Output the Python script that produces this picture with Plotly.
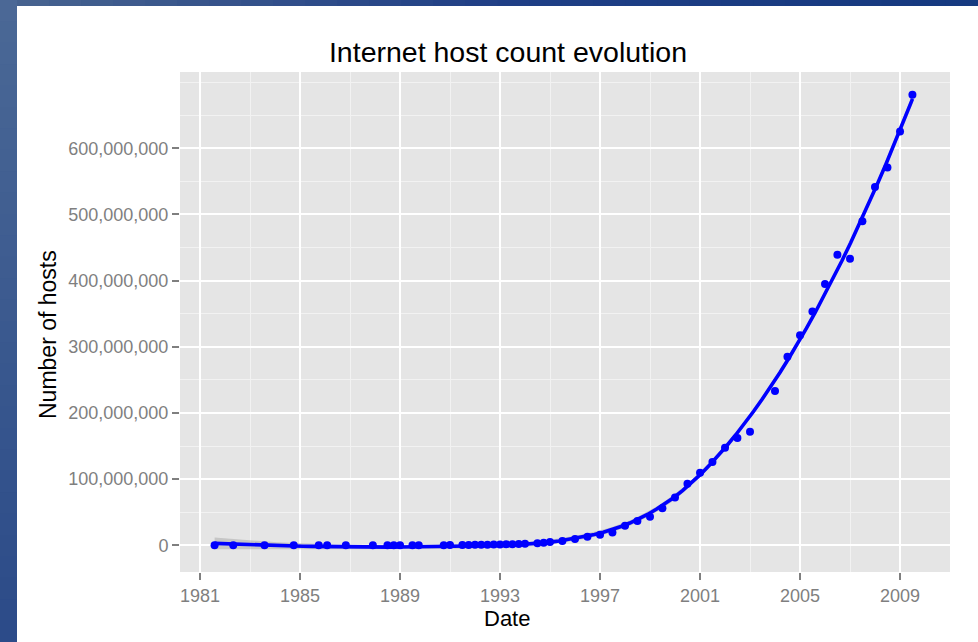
import numpy as np
import pandas as pd
import plotly.graph_objects as go

# ---- data (ISC host count survey, unadjusted) ----
survey_dates = [
    "1981-08", "1982-05", "1983-08", "1984-10", "1985-10", "1986-02", "1986-11",
    "1987-12", "1988-07", "1988-10", "1989-01", "1989-07", "1989-10", "1990-10",
    "1991-01", "1991-07", "1991-10", "1992-01", "1992-04", "1992-07", "1992-10",
    "1993-01", "1993-04", "1993-07", "1993-10", "1994-01", "1994-07", "1994-10",
    "1995-01", "1995-07", "1996-01", "1996-07", "1997-01", "1997-07", "1998-01",
    "1998-07", "1999-01", "1999-07", "2000-01", "2000-07", "2001-01", "2001-07",
    "2002-01", "2002-07", "2003-01", "2004-01", "2004-07", "2005-01", "2005-07",
    "2006-01", "2006-07", "2007-01", "2007-07", "2008-01", "2008-07", "2009-01",
    "2009-07",
]
host_counts = [
    213, 235, 562, 1024, 1961, 2308, 5089,
    28174, 33000, 56000, 80000, 130000, 159000, 313000,
    376000, 535000, 617000, 727000, 890000, 992000, 1136000,
    1313000, 1486000, 1776000, 2056000, 2217000, 3212000, 3864000,
    4852000, 6642000, 9472000, 12881000, 16146000, 19540000, 29670000,
    36739000, 43230000, 56218000, 72398092, 93047785, 109574429, 125888197,
    147344723, 162128493, 171638297, 233101481, 285139107, 317646084, 353284187,
    394991609, 439286364, 433193199, 489774269, 541677360, 570937778, 625226456,
    681064561,
]
year_ticks = [1981, 1985, 1989, 1993, 1997, 2001, 2005, 2009]
count_ticks = [0, 100e6, 200e6, 300e6, 400e6, 500e6, 600e6]

# ---- loess smoother (degree 2, span 0.75, tricube), like geom_smooth ----
dates = pd.to_datetime(survey_dates)
xnum = np.array([d.year + (d.month - 1) / 12 for d in dates], dtype=float)
yv = np.array(host_counts, dtype=float)


def loess_row(x, x0, span=0.75):
    n = len(x)
    q = int(np.floor(n * span))
    d = np.abs(x - x0)
    h = np.sort(d)[q - 1]
    u = np.clip(d / h, 0, 1)
    w = (1 - u ** 3) ** 3
    X = np.vstack([np.ones(n), x - x0, (x - x0) ** 2]).T
    XtW = X.T * w
    A = np.linalg.solve(XtW @ X, XtW)
    return A[0]


L = np.array([loess_row(xnum, x0) for x0 in xnum])
resid = yv - L @ yv
n = len(xnum)
I = np.eye(n)
M = (I - L).T @ (I - L)
d1 = np.trace(M)
sigma = np.sqrt(np.sum(resid ** 2) / d1)
tq = 2.0

xs = np.linspace(xnum.min(), xnum.max(), 80)
rows = np.array([loess_row(xnum, x0) for x0 in xs])
fit = rows @ yv
se = sigma * np.sqrt(np.sum(rows ** 2, axis=1))
lo = fit - tq * se
hi = fit + tq * se


def to_date(v):
    yr = int(np.floor(v))
    start = pd.Timestamp(year=yr, month=1, day=1)
    end = pd.Timestamp(year=yr + 1, month=1, day=1)
    return start + (end - start) * (v - yr)


xs_dates = [to_date(v) for v in xs]

fig = go.Figure()
fig.add_trace(go.Scatter(
    x=xs_dates + xs_dates[::-1], y=list(hi) + list(lo[::-1]),
    fill="toself", fillcolor="rgba(153,153,153,0.4)", line=dict(width=0),
    mode="lines", hoverinfo="skip", showlegend=False))
fig.add_trace(go.Scatter(
    x=dates, y=yv, mode="markers",
    marker=dict(color="#0000FF", size=8, line=dict(width=0)),
    showlegend=False))
fig.add_trace(go.Scatter(
    x=xs_dates, y=fit, mode="lines",
    line=dict(color="#0000FF", width=3.6), showlegend=False))

# ---- layout ----
L_M, R_M, T_M, B_M = 180, 28, 72, 70
W, H = 978, 642
PW, PH = W - L_M - R_M, H - T_M - B_M


def px(xp):
    return (xp - L_M) / PW


def py(yp):
    return (H - B_M - yp) / PH


shapes = []
# decorative blue frame (gradient approximated by slices)
nsl = 30
c_top = np.array([0x4b, 0x68, 0x96])
c_bot = np.array([0x2c, 0x4b, 0x89])
for i in range(nsl):
    t = i / (nsl - 1)
    c = (c_top * (1 - t) + c_bot * t).astype(int)
    y0 = i * H / nsl
    y1 = (i + 1) * H / nsl + 1
    shapes.append(dict(type="rect", xref="paper", yref="paper",
                       x0=px(0), x1=px(17), y0=py(y1), y1=py(y0),
                       fillcolor="rgb(%d,%d,%d)" % tuple(c), line=dict(width=0),
                       layer="above"))
c_l = np.array([0x46, 0x62, 0x8f])
c_m = np.array([0x20, 0x3f, 0x86])
c_r = np.array([0x16, 0x3a, 0x80])
for i in range(nsl):
    t = i / (nsl - 1)
    if t < 0.5:
        c = c_l * (1 - 2 * t) + c_m * 2 * t
    else:
        c = c_m * (2 - 2 * t) + c_r * (2 * t - 1)
    c = c.astype(int)
    x0 = 17 + i * (W - 17) / nsl
    x1 = 17 + (i + 1) * (W - 17) / nsl + 1
    shapes.append(dict(type="rect", xref="paper", yref="paper",
                       x0=px(x0), x1=px(x1), y0=py(6), y1=py(0),
                       fillcolor="rgb(%d,%d,%d)" % tuple(c), line=dict(width=0),
                       layer="above"))

FONT = "Liberation Sans, Arial, Helvetica, sans-serif"

fig.update_layout(
    width=W, height=H,
    margin=dict(l=L_M, r=R_M, t=T_M, b=B_M),
    paper_bgcolor="white", plot_bgcolor="#E5E5E5",
    font=dict(family=FONT, color="#000000"),
    title=dict(text="Internet host count evolution", x=508 / W, xref="container",
               xanchor="center", y=1 - 52 / H, yref="container", yanchor="middle",
               font=dict(size=28.5, color="#000000", family=FONT)),
    shapes=shapes,
    annotations=[
        dict(text="Date", x=px(507), y=py(604), xref="paper", yref="paper",
             showarrow=False, xanchor="center", yanchor="top",
             font=dict(size=22, color="#000000", family=FONT)),
        dict(text="Number of hosts", x=px(48), y=py(335), xref="paper", yref="paper",
             showarrow=False, xanchor="center", yanchor="middle", textangle=-90,
             font=dict(size=23, color="#000000", family=FONT)),
    ],
    showlegend=False,
)

fig.update_xaxes(
    type="date",
    range=["1980-03-14", "2011-01-01"],
    tickvals=[pd.Timestamp(year=y, month=1, day=1) for y in year_ticks],
    ticktext=[str(y) for y in year_ticks],
    showgrid=True, gridcolor="white", gridwidth=2,
    minor=dict(tickvals=[pd.Timestamp(year=y + 2, month=1, day=1) for y in [1979] + year_ticks],
               showgrid=True, gridcolor="#F2F2F2", gridwidth=1, ticks=""),
    ticks="outside", ticklen=7, tickwidth=1.5, tickcolor="#7F7F7F",
    tickfont=dict(size=18, color="#7F7F7F", family=FONT),
    showline=False, zeroline=False,
)
fig.update_yaxes(
    range=[-40.3e6, 715.3e6],
    tickvals=count_ticks,
    tickformat=",d",
    showgrid=True, gridcolor="white", gridwidth=2,
    minor=dict(dtick=50e6, tick0=-50e6, showgrid=True, gridcolor="#F2F2F2", gridwidth=1, ticks=""),
    ticks="outside", ticklen=7, tickwidth=1.5, tickcolor="#7F7F7F",
    tickfont=dict(size=18, color="#7F7F7F", family=FONT),
    showline=False, zeroline=False,
)

fig.write_html("out.html", config={"displayModeBar": False},
               post_script="document.body.style.margin='0px';")
